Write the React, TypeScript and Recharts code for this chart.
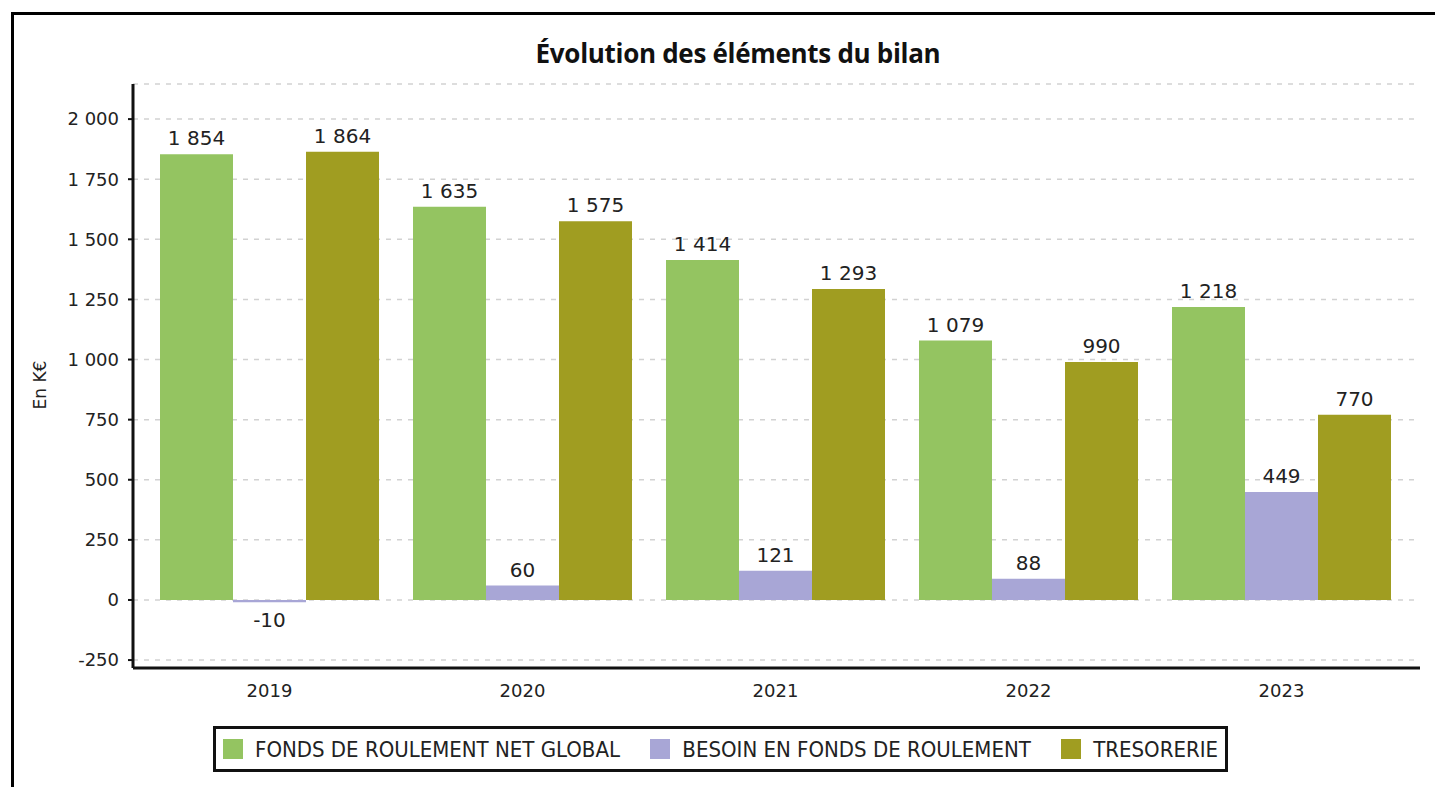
import React from 'react';
import {
    BarChart,
    Bar,
    XAxis,
    YAxis,
    CartesianGrid,
    LabelList
} from 'recharts';

const years = ['2019', '2020', '2021', '2022', '2023'];
const fondsRoulement = [1854, 1635, 1414, 1079, 1218];
const besoinFonds = [-10, 60, 121, 88, 449];
const tresorerie = [1864, 1575, 1293, 990, 770];
const yTicks = [-250, 0, 250, 500, 750, 1000, 1250, 1500, 1750, 2000];

const series = [
    { key: 'fr', name: 'FONDS DE ROULEMENT NET GLOBAL', color: '#94c461' },
    { key: 'bfr', name: 'BESOIN EN FONDS DE ROULEMENT', color: '#a8a6d6' },
    { key: 'tr', name: 'TRESORERIE', color: '#a09d21' }
];

const data = years.map((y, i) => ({
    year: y,
    fr: fondsRoulement[i],
    bfr: besoinFonds[i],
    tr: tresorerie[i]
}));

// thousands with a space, french style
const fmt = (v: number) => {
    const s = String(Math.abs(v));
    const parts = s.replace(/\B(?=(\d{3})+(?!\d))/g, ' ');
    return v < 0 ? `-${parts}` : parts;
};

const tickFont = "'DejaVu Sans', sans-serif";

const BarValue = (props: any) => {
    const { x, y, width, height, value } = props;
    const top = Math.min(y, y + height);
    const bottom = Math.max(y, y + height);
    const ty = value < 0 ? bottom + 25 : top - 9;
    return (
        <text
            x={x + width / 2}
            y={ty}
            textAnchor="middle"
            fill="#222"
            fontSize={20}
            fontFamily={tickFont}
        >
            {fmt(value)}
        </text>
    );
};

const LegendBox = () => (
    <div
        style={{
            position: 'absolute',
            left: 213,
            top: 726,
            display: 'flex',
            alignItems: 'center',
            justifyContent: 'space-between',
            border: '3px solid #111',
            height: 46,
            padding: '0 7px 0 7px',
            boxSizing: 'border-box',
            width: 1015,
            fontFamily: "'Liberation Sans Narrow', 'DejaVu Sans Condensed', sans-serif",
            fontSize: 22,
            color: '#222',
            whiteSpace: 'nowrap'
        }}
    >
        {series.map(s => (
            <div key={s.key} style={{ display: 'flex', alignItems: 'center' }}>
                <div style={{ width: 20, height: 20, background: s.color, marginRight: 12 }} />
                <span>{s.name}</span>
            </div>
        ))}
    </div>
);

export default function App() {
    return (
        <div style={{ position: 'absolute', left: 0, top: 0, width: 1435, height: 787, background: '#fff', overflow: 'hidden' }}>
            {/* frame */}
            <div
                style={{
                    position: 'absolute',
                    left: 11,
                    top: 12,
                    width: 1500,
                    height: 900,
                    borderTop: '3px solid #000',
                    borderLeft: '3px solid #000'
                }}
            />
            <div
                style={{
                    position: 'absolute',
                    left: 0,
                    top: 35,
                    width: 1476,
                    textAlign: 'center',
                    fontFamily: "'Open Sans', sans-serif",
                    fontWeight: 700,
                    fontSize: 26,
                    letterSpacing: -0.3,
                    color: '#111'
                }}
            >
                Évolution des éléments du bilan
            </div>
            <div
                style={{
                    position: 'absolute',
                    left: 40,
                    top: 385,
                    transform: 'translate(-50%, -50%) rotate(-90deg)',
                    fontFamily: tickFont,
                    fontSize: 17,
                    color: '#222',
                    whiteSpace: 'nowrap'
                }}
            >
                En K€
            </div>
            <div style={{ position: 'absolute', left: 0, top: 0 }}>
                <BarChart
                    width={1435}
                    height={787}
                    data={data}
                    margin={{ top: 84, right: 15, bottom: 89, left: 0 }}
                    barCategoryGap={17}
                    barGap={0}
                >
                    <CartesianGrid
                        vertical={false}
                        stroke="#d2d2d2"
                        strokeDasharray="5 6"
                        strokeWidth={1.5}
                    />
                    <XAxis
                        dataKey="year"
                        height={30}
                        padding={{ left: 10, right: 12 }}
                        tickLine={false}
                        axisLine={{ stroke: '#111', strokeWidth: 3 }}
                        tickMargin={10}
                        tick={{ fill: '#222', fontSize: 18, fontFamily: tickFont }}
                    />
                    <YAxis
                        width={133}
                        domain={[-283, 2146]}
                        ticks={yTicks}
                        interval={0}
                        allowDataOverflow
                        tickFormatter={fmt}
                        tickSize={5}
                        tickMargin={9}
                        tickLine={{ stroke: '#111', strokeWidth: 2 }}
                        axisLine={{ stroke: '#111', strokeWidth: 3 }}
                        tick={{ fill: '#222', fontSize: 18, fontFamily: tickFont }}
                    />
                    {series.map(s => (
                        <Bar
                            key={s.key}
                            dataKey={s.key}
                            name={s.name}
                            fill={s.color}
                            isAnimationActive={false}
                        >
                            <LabelList dataKey={s.key} content={<BarValue />} />
                        </Bar>
                    ))}
                </BarChart>
            </div>
            <LegendBox />
        </div>
    );
}
